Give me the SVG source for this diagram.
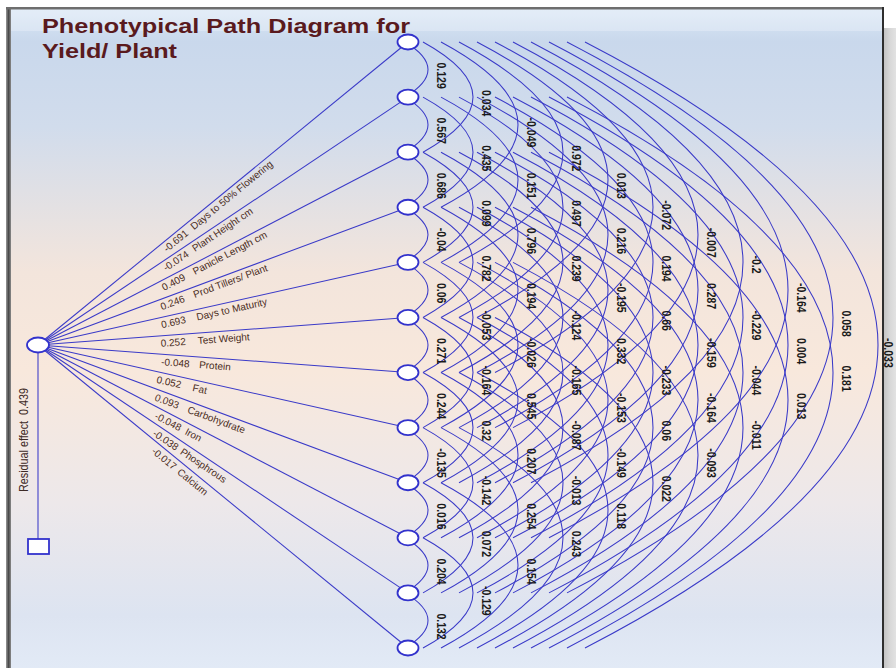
<svg xmlns="http://www.w3.org/2000/svg" xmlns:xlink="http://www.w3.org/1999/xlink" width="896" height="668" viewBox="0 0 896 668">
<defs>
<linearGradient id="bg" x1="0" y1="0" x2="0" y2="1">
<stop offset="0" stop-color="#dbe8f6"/>
<stop offset="0.05" stop-color="#c9d8ec"/>
<stop offset="0.18" stop-color="#d1dcec"/>
<stop offset="0.40" stop-color="#f3e5dc"/>
<stop offset="0.55" stop-color="#f8e8dc"/>
<stop offset="0.75" stop-color="#ede8ea"/>
<stop offset="0.92" stop-color="#dde4f1"/>
<stop offset="1" stop-color="#e2eaf6"/>
</linearGradient>
<linearGradient id="shadow" x1="0" y1="0" x2="1" y2="0">
<stop offset="0" stop-color="#c4c4c4"/>
<stop offset="0.5" stop-color="#d8d8d8"/>
<stop offset="1" stop-color="#e2e2e2"/>
</linearGradient>
<linearGradient id="lframe" x1="0" y1="0" x2="1" y2="0">
<stop offset="0" stop-color="#9a9a9a"/>
<stop offset="0.5" stop-color="#4a4a4a"/>
<stop offset="1" stop-color="#8a8a8a"/>
</linearGradient>
<path id="a1" d="M405,0 Q451,27.55 405,55.09"/>
<path id="a2" d="M423,0 Q523,55.09 423,110.18"/>
<path id="a3" d="M441,0 Q595,82.64 441,165.27"/>
<path id="a4" d="M459,0 Q667,110.18 459,220.36"/>
<path id="a5" d="M477,0 Q739,137.73 477,275.45"/>
<path id="a6" d="M495,0 Q811,165.27 495,330.54"/>
<path id="a7" d="M513,0 Q883,192.82 513,385.63"/>
<path id="a8" d="M531,0 Q955,220.36 531,440.72"/>
<path id="a9" d="M549,0 Q1027,247.91 549,495.81"/>
<path id="a10" d="M567,0 Q1099,275.45 567,550.9"/>
<path id="a11" d="M585,0 Q1171,303 585,605.99"/>
</defs>
<style>
.ln{fill:none;stroke:#3a3ac8;stroke-width:1.05}
.nd{fill:#ffffff;stroke:#3232cc;stroke-width:1.8}
.ttl{font-family:"Liberation Sans",Arial,sans-serif;font-weight:bold;font-size:21px;fill:#5a1a1e}
.fl{font-family:"Liberation Sans",Arial,sans-serif;font-size:10px;fill:#4a2c22}
.cv{font-family:"Liberation Sans",Arial,sans-serif;font-size:10.5px;font-weight:bold;fill:#1a1a1a}
.res{font-family:"Liberation Sans",Arial,sans-serif;font-size:10.8px;fill:#3d2a25}
</style>
<rect x="0" y="0" width="896" height="668" fill="#ffffff"/>
<rect x="884" y="28" width="12" height="640" fill="url(#shadow)"/>
<rect x="10" y="8" width="873" height="660" fill="url(#bg)"/>
<rect x="10" y="9" width="873" height="22" fill="#ffffff" opacity="0.25"/>
<rect x="6" y="7" width="5" height="661" fill="url(#lframe)"/>
<rect x="6" y="7" width="878" height="2.5" fill="#6e6e6e"/>
<rect x="882" y="7" width="2" height="661" fill="#2e2e2e"/>

<g id="title">
<text class="ttl" x="42" y="33" textLength="368" lengthAdjust="spacingAndGlyphs">Phenotypical Path Diagram for</text>
<text class="ttl" x="42" y="58" textLength="135" lengthAdjust="spacingAndGlyphs">Yield/ Plant</text>
</g>

<g id="connectors" class="ln">
<line x1="38" y1="345" x2="408" y2="42"/>
<line x1="38" y1="345" x2="408" y2="97.09"/>
<line x1="38" y1="345" x2="408" y2="152.18"/>
<line x1="38" y1="345" x2="408" y2="207.27"/>
<line x1="38" y1="345" x2="408" y2="262.36"/>
<line x1="38" y1="345" x2="408" y2="317.45"/>
<line x1="38" y1="345" x2="408" y2="372.55"/>
<line x1="38" y1="345" x2="408" y2="427.64"/>
<line x1="38" y1="345" x2="408" y2="482.73"/>
<line x1="38" y1="345" x2="408" y2="537.82"/>
<line x1="38" y1="345" x2="408" y2="592.91"/>
<line x1="38" y1="345" x2="408" y2="648"/>
<line x1="38" y1="345" x2="38" y2="539"/>
<use href="#a1" y="42"/><use href="#a1" y="97.09"/><use href="#a1" y="152.18"/><use href="#a1" y="207.27"/><use href="#a1" y="262.36"/><use href="#a1" y="317.45"/><use href="#a1" y="372.55"/><use href="#a1" y="427.64"/><use href="#a1" y="482.73"/><use href="#a1" y="537.82"/><use href="#a1" y="592.91"/>
<use href="#a2" y="42"/><use href="#a2" y="97.09"/><use href="#a2" y="152.18"/><use href="#a2" y="207.27"/><use href="#a2" y="262.36"/><use href="#a2" y="317.45"/><use href="#a2" y="372.55"/><use href="#a2" y="427.64"/><use href="#a2" y="482.73"/><use href="#a2" y="537.82"/>
<use href="#a3" y="42"/><use href="#a3" y="97.09"/><use href="#a3" y="152.18"/><use href="#a3" y="207.27"/><use href="#a3" y="262.36"/><use href="#a3" y="317.45"/><use href="#a3" y="372.55"/><use href="#a3" y="427.64"/><use href="#a3" y="482.73"/>
<use href="#a4" y="42"/><use href="#a4" y="97.09"/><use href="#a4" y="152.18"/><use href="#a4" y="207.27"/><use href="#a4" y="262.36"/><use href="#a4" y="317.45"/><use href="#a4" y="372.55"/><use href="#a4" y="427.64"/>
<use href="#a5" y="42"/><use href="#a5" y="97.09"/><use href="#a5" y="152.18"/><use href="#a5" y="207.27"/><use href="#a5" y="262.36"/><use href="#a5" y="317.45"/><use href="#a5" y="372.55"/>
<use href="#a6" y="42"/><use href="#a6" y="97.09"/><use href="#a6" y="152.18"/><use href="#a6" y="207.27"/><use href="#a6" y="262.36"/><use href="#a6" y="317.45"/>
<use href="#a7" y="42"/><use href="#a7" y="97.09"/><use href="#a7" y="152.18"/><use href="#a7" y="207.27"/><use href="#a7" y="262.36"/>
<use href="#a8" y="42"/><use href="#a8" y="97.09"/><use href="#a8" y="152.18"/><use href="#a8" y="207.27"/>
<use href="#a9" y="42"/><use href="#a9" y="97.09"/><use href="#a9" y="152.18"/>
<use href="#a10" y="42"/><use href="#a10" y="97.09"/>
<use href="#a11" y="42"/>
</g>

<g id="path-labels" class="fl">
<text transform="translate(167,252.5) rotate(-39.31)">-0.691<tspan x="35">Days to 50% Flowering</tspan></text>
<text transform="translate(166,271.6) rotate(-33.82)">-0.074<tspan x="35">Plant Height cm</tspan></text>
<text transform="translate(164,291.1) rotate(-27.52)">0.409<tspan x="35">Panicle Length cm</tspan></text>
<text transform="translate(162,310.2) rotate(-20.41)">0.246<tspan x="35">Prod Tillers/ Plant</tspan></text>
<text transform="translate(162,328.3) rotate(-12.58)">0.693<tspan x="36">Days to Maturity</tspan></text>
<text transform="translate(161,346.8) rotate(-4.25)">0.252<tspan x="37">Test Weight</tspan></text>
<text transform="translate(161,365.2) rotate(4.25)">-0.048<tspan x="38">Protein</tspan></text>
<text transform="translate(156,382.8) rotate(12.58)">0.052<tspan x="37">Fat</tspan></text>
<text transform="translate(154,400.2) rotate(20.41)">0.093<tspan x="35">Carbohydrate</tspan></text>
<text transform="translate(154,418.2) rotate(27.52)">-0.048<tspan x="34">Iron</tspan></text>
<text transform="translate(152,435.1) rotate(33.82)">-0.038<tspan x="33">Phosphrous</tspan></text>
<text transform="translate(151,452.3) rotate(39.31)">-0.017<tspan x="33">Calcium</tspan></text>
</g>

<text id="residual-label" class="res" text-anchor="middle" transform="translate(28,440) rotate(-90) scale(1,1.2)">Residual effect<tspan dx="6">0.439</tspan></text>

<g id="correlations" class="cv" transform="rotate(90) scale(1,1.25)">
<text x="62.5" y="-349.84">0.129</text>
<text x="117.6" y="-349.84">0.567</text>
<text x="172.7" y="-349.84">0.686</text>
<text x="227.8" y="-349.84">-0.04</text>
<text x="282.9" y="-349.84">0.06</text>
<text x="338.0" y="-349.84">0.271</text>
<text x="393.1" y="-349.84">0.244</text>
<text x="448.2" y="-349.84">-0.135</text>
<text x="503.3" y="-349.84">0.016</text>
<text x="558.4" y="-349.84">0.204</text>
<text x="613.4" y="-349.84">0.132</text>

<text x="90.1" y="-385.84">0.034</text>
<text x="145.2" y="-385.84">0.435</text>
<text x="200.3" y="-385.84">0.099</text>
<text x="255.4" y="-385.84">0.782</text>
<text x="310.5" y="-385.84">-0.053</text>
<text x="365.5" y="-385.84">-0.164</text>
<text x="420.6" y="-385.84">0.32</text>
<text x="475.7" y="-385.84">-0.142</text>
<text x="530.8" y="-385.84">0.072</text>
<text x="585.9" y="-385.84">-0.129</text>

<text x="117.6" y="-421.84">-0.049</text>
<text x="172.7" y="-421.84">0.151</text>
<text x="227.8" y="-421.84">0.796</text>
<text x="282.9" y="-421.84">0.194</text>
<text x="338.0" y="-421.84">-0.026</text>
<text x="393.1" y="-421.84">0.545</text>
<text x="448.2" y="-421.84">0.207</text>
<text x="503.3" y="-421.84">0.254</text>
<text x="558.4" y="-421.84">0.154</text>

<text x="145.2" y="-457.84">0.972</text>
<text x="200.3" y="-457.84">0.497</text>
<text x="255.4" y="-457.84">0.239</text>
<text x="310.5" y="-457.84">-0.124</text>
<text x="365.5" y="-457.84">-0.165</text>
<text x="420.6" y="-457.84">-0.087</text>
<text x="475.7" y="-457.84">-0.013</text>
<text x="530.8" y="-457.84">0.243</text>

<text x="172.7" y="-493.84">0.013</text>
<text x="227.8" y="-493.84">0.216</text>
<text x="282.9" y="-493.84">-0.195</text>
<text x="338.0" y="-493.84">0.332</text>
<text x="393.1" y="-493.84">-0.153</text>
<text x="448.2" y="-493.84">-0.149</text>
<text x="503.3" y="-493.84">0.118</text>

<text x="200.3" y="-529.84">-0.072</text>
<text x="255.4" y="-529.84">0.194</text>
<text x="310.5" y="-529.84">0.66</text>
<text x="365.5" y="-529.84">-0.233</text>
<text x="420.6" y="-529.84">0.06</text>
<text x="475.7" y="-529.84">0.022</text>

<text x="227.8" y="-565.84">-0.007</text>
<text x="282.9" y="-565.84">0.287</text>
<text x="338.0" y="-565.84">-0.159</text>
<text x="393.1" y="-565.84">-0.164</text>
<text x="448.2" y="-565.84">-0.093</text>

<text x="255.4" y="-601.84">-0.2</text>
<text x="310.5" y="-601.84">-0.229</text>
<text x="365.5" y="-601.84">-0.044</text>
<text x="420.6" y="-601.84">-0.011</text>

<text x="282.9" y="-637.84">-0.164</text>
<text x="338.0" y="-637.84">0.004</text>
<text x="393.1" y="-637.84">0.013</text>

<text x="310.5" y="-673.84">0.058</text>
<text x="365.5" y="-673.84">0.181</text>

<text x="338.0" y="-707.4">-0.033</text>
</g>

<g id="node-yield"><ellipse class="nd" cx="38" cy="345" rx="11" ry="7.5"/></g>
<g id="node-residual"><rect class="nd" x="28" y="539" width="21" height="15"/></g>
<g id="node-days-flowering"><ellipse class="nd" cx="408" cy="42" rx="10.5" ry="7.5"/></g>
<g id="node-plant-height"><ellipse class="nd" cx="408" cy="97.09" rx="10.5" ry="7.5"/></g>
<g id="node-panicle-length"><ellipse class="nd" cx="408" cy="152.18" rx="10.5" ry="7.5"/></g>
<g id="node-prod-tillers"><ellipse class="nd" cx="408" cy="207.27" rx="10.5" ry="7.5"/></g>
<g id="node-days-maturity"><ellipse class="nd" cx="408" cy="262.36" rx="10.5" ry="7.5"/></g>
<g id="node-test-weight"><ellipse class="nd" cx="408" cy="317.45" rx="10.5" ry="7.5"/></g>
<g id="node-protein"><ellipse class="nd" cx="408" cy="372.55" rx="10.5" ry="7.5"/></g>
<g id="node-fat"><ellipse class="nd" cx="408" cy="427.64" rx="10.5" ry="7.5"/></g>
<g id="node-carbohydrate"><ellipse class="nd" cx="408" cy="482.73" rx="10.5" ry="7.5"/></g>
<g id="node-iron"><ellipse class="nd" cx="408" cy="537.82" rx="10.5" ry="7.5"/></g>
<g id="node-phosphrous"><ellipse class="nd" cx="408" cy="592.91" rx="10.5" ry="7.5"/></g>
<g id="node-calcium"><ellipse class="nd" cx="408" cy="648" rx="10.5" ry="7.5"/></g>
</svg>
